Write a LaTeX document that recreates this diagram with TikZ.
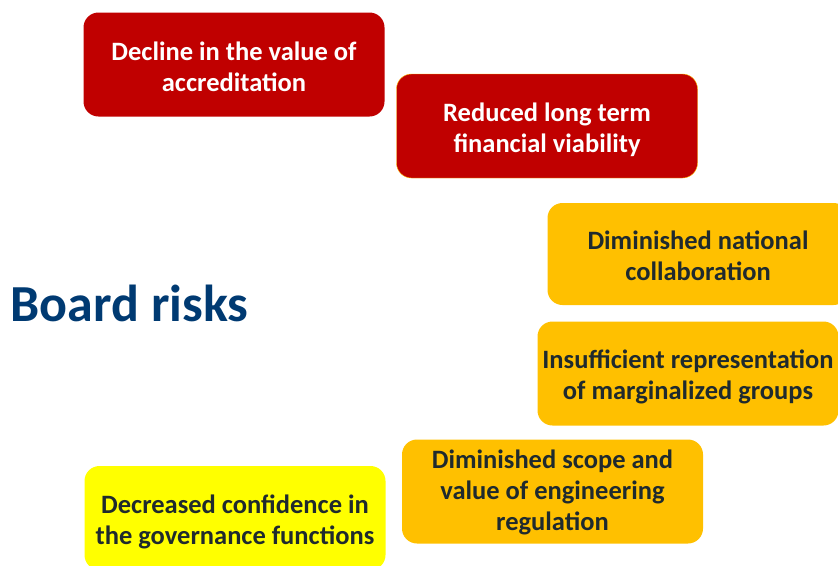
\documentclass[tikz,border=0pt]{standalone}
\usepackage{fontspec}
\setmainfont{Carlito}
\usepackage{tikz}
\usetikzlibrary{positioning}
\definecolor{riskred}{HTML}{C00000}
\definecolor{riskorange}{HTML}{FFC000}
\definecolor{riskyellow}{HTML}{FFFF00}
\definecolor{riskblue}{HTML}{003A72}
\definecolor{risktext}{HTML}{1F2A2E}

\begin{document}
\begin{tikzpicture}[x=1pt, y=1pt, font=\bfseries\fontsize{26.5}{31}\selectfont]
\tikzstyle{riskbox}=[rectangle, rounded corners=15pt, align=center, inner sep=0pt, minimum width=301pt, minimum height=104pt,
  text height=52pt, text depth=0pt]
\tikzstyle{high}=[riskbox, fill=riskred, text=white]
\tikzstyle{medium}=[riskbox, fill=riskorange, text=risktext]
\tikzstyle{low}=[riskbox, fill=riskyellow, text=risktext]

\useasboundingbox (0,0) rectangle (838,-565);

\node[text=riskblue, font=\bfseries\fontsize{52}{56}\selectfont]  (T) at (129.5,-303)   {Board risks};
\node[high, text height=54pt]    		(A) at (234,-64.5)   {Decline in the value of\\accreditation};
\node[high, draw=riskorange, thin]   		(B) at (547,-126)   {Reduced long term\\financial viability};
\node[medium, minimum height=102pt]    		(C) at (698,-254)   {Diminished national\\collaboration};
\node[medium]    		(D) at (688,-373.5)   {Insufficient representation\\of marginalized groups};
\node[medium, text height=78pt]    		(E) at (552.5,-491.5)   {Diminished scope and\\value of engineering\\regulation};
\node[low]    		(F) at (235,-518)   {Decreased confidence in\\the governance functions};

\end{tikzpicture}
\end{document}
